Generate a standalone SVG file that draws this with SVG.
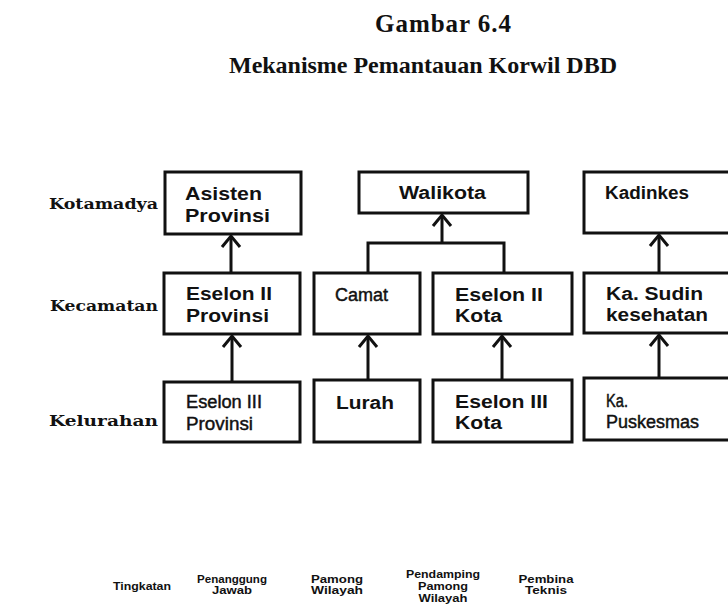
<svg xmlns="http://www.w3.org/2000/svg" width="728" height="614" viewBox="0 0 728 614">
<style>
.title{font-family:"Liberation Serif","Times New Roman",serif;font-weight:bold;fill:#111;}
.lvl{font-family:"DejaVu Serif","Liberation Serif",serif;font-weight:bold;font-size:14px;fill:#111;}
.bx{fill:#fff;stroke:#111;stroke-width:3;}
.tb{font-family:"Liberation Sans",Arial,sans-serif;font-weight:bold;font-size:18px;fill:#111;}
.tr{font-family:"Liberation Sans",Arial,sans-serif;font-size:18px;fill:#111;stroke:#111;stroke-width:0.45;}
.ft{font-family:"Liberation Sans",Arial,sans-serif;font-weight:bold;font-size:11px;fill:#111;}
.ln{fill:none;stroke:#111;stroke-width:3;}
</style>
<defs>
<path id="chev" d="M-9,13 L0,2 L9,13" fill="none" stroke="#111" stroke-width="3"/>
</defs>
<rect width="728" height="614" fill="#fff"/>

<g id="title">
<text class="title" x="443" y="32" font-size="25" text-anchor="middle" textLength="136">Gambar 6.4</text>
<text class="title" x="423" y="73" font-size="24" text-anchor="middle" textLength="388">Mekanisme Pemantauan Korwil DBD</text>
</g>

<g id="levels">
<text class="lvl" x="49" y="209" textLength="109" lengthAdjust="spacingAndGlyphs">Kotamadya</text>
<text class="lvl" x="50" y="311" textLength="108" lengthAdjust="spacingAndGlyphs">Kecamatan</text>
<text class="lvl" x="49" y="426" textLength="109" lengthAdjust="spacingAndGlyphs">Kelurahan</text>
</g>

<g id="connectors">
<line class="ln" x1="231" y1="273" x2="231" y2="236"/>
<use href="#chev" x="231" y="234"/>
<line class="ln" x1="232" y1="382" x2="232" y2="336"/>
<use href="#chev" x="232" y="334"/>
<line class="ln" x1="442" y1="243" x2="442" y2="215"/>
<use href="#chev" x="442" y="213"/>
<polyline class="ln" points="368,273 368,243 504,243 504,273"/>
<line class="ln" x1="368" y1="380" x2="368" y2="336"/>
<use href="#chev" x="368" y="334"/>
<line class="ln" x1="502" y1="380" x2="502" y2="336"/>
<use href="#chev" x="502" y="334"/>
<line class="ln" x1="659" y1="273" x2="659" y2="235"/>
<use href="#chev" x="659" y="233"/>
<line class="ln" x1="659" y1="378" x2="659" y2="335"/>
<use href="#chev" x="659" y="333"/>
</g>

<g id="asisten-provinsi">
<rect class="bx" x="165" y="172" width="136" height="62"/>
<text class="tb" x="185" y="200" textLength="77" lengthAdjust="spacingAndGlyphs">Asisten</text>
<text class="tb" x="185" y="222" textLength="85" lengthAdjust="spacingAndGlyphs">Provinsi</text>
</g>
<g id="walikota">
<rect class="bx" x="359" y="172" width="169" height="41"/>
<text class="tb" x="399" y="199" textLength="87" lengthAdjust="spacingAndGlyphs">Walikota</text>
</g>
<g id="kadinkes">
<rect class="bx" x="584" y="172" width="160" height="61"/>
<text class="tb" x="605" y="199" textLength="84" lengthAdjust="spacingAndGlyphs">Kadinkes</text>
</g>

<g id="eselon-ii-provinsi">
<rect class="bx" x="164" y="273" width="136" height="61"/>
<text class="tb" x="186" y="300" textLength="86" lengthAdjust="spacingAndGlyphs">Eselon II</text>
<text class="tb" x="186" y="322" textLength="83" lengthAdjust="spacingAndGlyphs">Provinsi</text>
</g>
<g id="camat">
<rect class="bx" x="314" y="273" width="106" height="61"/>
<text class="tr" x="335" y="301" textLength="53" lengthAdjust="spacingAndGlyphs">Camat</text>
</g>
<g id="eselon-ii-kota">
<rect class="bx" x="433" y="273" width="139" height="61"/>
<text class="tb" x="455" y="301" textLength="88" lengthAdjust="spacingAndGlyphs">Eselon II</text>
<text class="tb" x="455" y="322" textLength="47" lengthAdjust="spacingAndGlyphs">Kota</text>
</g>
<g id="ka-sudin">
<rect class="bx" x="584" y="273" width="160" height="60"/>
<text class="tb" x="606" y="300" textLength="97" lengthAdjust="spacingAndGlyphs">Ka. Sudin</text>
<text class="tb" x="606" y="321" textLength="102" lengthAdjust="spacingAndGlyphs">kesehatan</text>
</g>

<g id="eselon-iii-provinsi">
<rect class="bx" x="164" y="382" width="136" height="60"/>
<text class="tr" x="186" y="408" textLength="76" lengthAdjust="spacingAndGlyphs">Eselon III</text>
<text class="tr" x="186" y="430" textLength="67" lengthAdjust="spacingAndGlyphs">Provinsi</text>
</g>
<g id="lurah">
<rect class="bx" x="314" y="380" width="106" height="62"/>
<text class="tb" x="336" y="409" textLength="58" lengthAdjust="spacingAndGlyphs">Lurah</text>
</g>
<g id="eselon-iii-kota">
<rect class="bx" x="433" y="380" width="139" height="62"/>
<text class="tb" x="455" y="408" textLength="93" lengthAdjust="spacingAndGlyphs">Eselon III</text>
<text class="tb" x="455" y="429" textLength="47" lengthAdjust="spacingAndGlyphs">Kota</text>
</g>
<g id="ka-puskesmas">
<rect class="bx" x="584" y="378" width="160" height="62"/>
<text class="tr" x="606" y="407" textLength="22" lengthAdjust="spacingAndGlyphs">Ka.</text>
<text class="tr" x="606" y="428" textLength="93" lengthAdjust="spacingAndGlyphs">Puskesmas</text>
</g>

<g id="legend">
<text class="ft" x="142" y="590" text-anchor="middle" textLength="58" lengthAdjust="spacingAndGlyphs">Tingkatan</text>
<text class="ft" x="232" y="583" text-anchor="middle" textLength="70" lengthAdjust="spacingAndGlyphs">Penanggung</text>
<text class="ft" x="232" y="594" text-anchor="middle" textLength="40" lengthAdjust="spacingAndGlyphs">Jawab</text>
<text class="ft" x="337" y="583" text-anchor="middle" textLength="52" lengthAdjust="spacingAndGlyphs">Pamong</text>
<text class="ft" x="337" y="594" text-anchor="middle" textLength="52" lengthAdjust="spacingAndGlyphs">Wilayah</text>
<text class="ft" x="443" y="578" text-anchor="middle" textLength="74" lengthAdjust="spacingAndGlyphs">Pendamping</text>
<text class="ft" x="443" y="590" text-anchor="middle" textLength="50" lengthAdjust="spacingAndGlyphs">Pamong</text>
<text class="ft" x="443" y="602" text-anchor="middle" textLength="49" lengthAdjust="spacingAndGlyphs">Wilayah</text>
<text class="ft" x="546" y="583" text-anchor="middle" textLength="55" lengthAdjust="spacingAndGlyphs">Pembina</text>
<text class="ft" x="546" y="594" text-anchor="middle" textLength="42" lengthAdjust="spacingAndGlyphs">Teknis</text>
</g>
</svg>
